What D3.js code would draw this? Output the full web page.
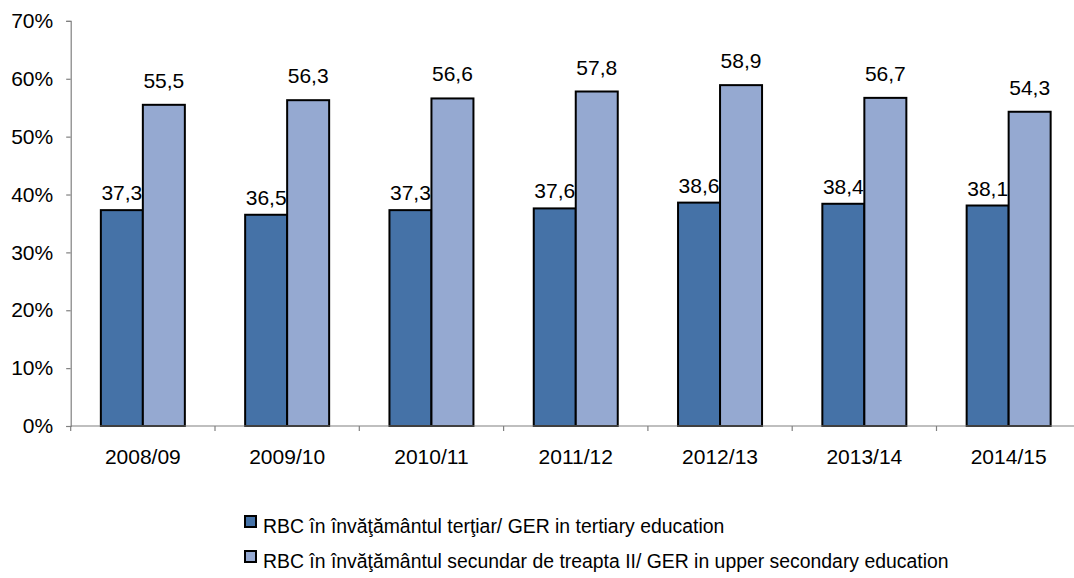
<!DOCTYPE html>
<html>
<head>
<meta charset="utf-8">
<script src="https://cdn.jsdelivr.net/npm/d3@7"></script>
<style>
  html, body { margin: 0; padding: 0; background: #fff; }
  svg { display: block; font-family: "Liberation Sans", Arial, sans-serif; }
</style>
</head>
<body>
<svg id="chart" width="1074" height="578"></svg>
<script>
const categories = ["2008/09", "2009/10", "2010/11", "2011/12", "2012/13", "2013/14", "2014/15"];
const tertiary = [37.3, 36.5, 37.3, 37.6, 38.6, 38.4, 38.1];
const upperSecondary = [55.5, 56.3, 56.6, 57.8, 58.9, 56.7, 54.3];
const yTicks = [0, 10, 20, 30, 40, 50, 60, 70];
const seriesNames = [
  "RBC în învăţământul terţiar/ GER in tertiary education",
  "RBC în învăţământul secundar de treapta II/ GER in upper secondary education"
];
const seriesColors = ["#4572A7", "#95A9D1"];

const svg = d3.select("#chart");
const plotLeft = 70.7, plotTop = 20.9, plotBottom = 426, step = 144.3;
const plotRight = plotLeft + step * categories.length;

const x = d3.scaleBand().domain(categories).range([plotLeft, plotRight]).padding(0);
const y = d3.scaleLinear().domain([0, 70]).range([plotBottom, plotTop]);
const barW = 42;
const inner = d3.scaleBand().domain([0, 1]).range([-barW, barW]).padding(0);

const series = [tertiary, upperSecondary];
const fs = 21;
const legendFs = 19.4;

// bars
series.forEach((vals, si) => {
  svg.append("g").selectAll("rect").data(vals).join("rect")
    .attr("x", (d, i) => x(categories[i]) + x.bandwidth() / 2 + inner(si))
    .attr("y", d => y(d))
    .attr("width", inner.bandwidth())
    .attr("height", d => y(0) - y(d))
    .attr("fill", seriesColors[si])
    .attr("stroke", "#000")
    .attr("stroke-width", 2);
});

// axes
const yAxis = d3.axisLeft(y).tickValues(yTicks).tickFormat(d => d + "%").tickSize(4.5).tickPadding(13);
const gy = svg.append("g").attr("transform", `translate(${plotLeft},0)`).call(yAxis);
gy.select(".domain").attr("stroke", "#808080").attr("stroke-width", 1.2);
gy.selectAll(".tick line").attr("stroke", "#808080").attr("stroke-width", 1.2);
gy.selectAll(".tick text").attr("font-size", fs).attr("fill", "#000")
  .attr("font-family", "Liberation Sans, Arial, sans-serif");

const gx = svg.append("g").attr("transform", `translate(0,${plotBottom})`);
gx.append("line").attr("x1", plotLeft).attr("x2", plotRight).attr("y1", 0).attr("y2", 0)
  .attr("stroke", "#808080").attr("stroke-width", 1.2);
gx.selectAll("line.tk").data(d3.range(categories.length + 1)).join("line")
  .attr("class", "tk")
  .attr("x1", i => plotLeft + i * x.step()).attr("x2", i => plotLeft + i * x.step())
  .attr("y1", 0).attr("y2", 5)
  .attr("stroke", "#808080").attr("stroke-width", 1.2);
gx.selectAll("text").data(categories).join("text")
  .attr("x", d => x(d) + x.bandwidth() / 2)
  .attr("y", 38)
  .attr("text-anchor", "middle")
  .attr("font-size", fs)
  .text(d => d);

// value labels
const offsets = [10, 17];
series.forEach((vals, si) => {
  svg.append("g").selectAll("text").data(vals).join("text")
    .attr("x", (d, i) => x(categories[i]) + x.bandwidth() / 2 + inner(si) + inner.bandwidth() / 2)
    .attr("y", d => y(d) - offsets[si])
    .attr("text-anchor", "middle")
    .attr("font-size", fs)
    .text(d => d.toFixed(1).replace(".", ","));
});

// legend
const legendY = [533, 568];
const lg = svg.append("g");
seriesNames.forEach((name, si) => {
  lg.append("rect")
    .attr("x", 245).attr("y", legendY[si] - 17)
    .attr("width", 11).attr("height", 11)
    .attr("fill", seriesColors[si]).attr("stroke", "#000").attr("stroke-width", 2);
  lg.append("text")
    .attr("x", 263).attr("y", legendY[si])
    .attr("font-size", legendFs)
    .text(name);
});
</script>
</body>
</html>
